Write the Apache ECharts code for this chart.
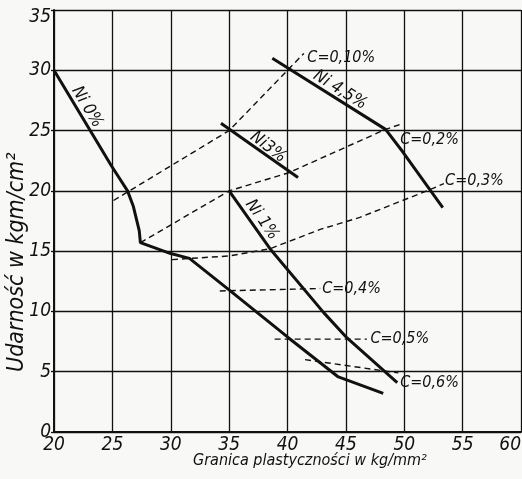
<!DOCTYPE html>
<html>
<head>
<meta charset="utf-8">
<script src="https://cdn.jsdelivr.net/npm/echarts@6/dist/echarts.min.js"></script>
<style>
html,body{margin:0;padding:0;background:#f8f8f6;}
#c{width:522px;height:479px;}
</style>
</head>
<body>
<div id="c"></div>
<script>
// ---- data (x: Granica plastyczności kg/mm², y: Udarność kgm/cm²) ----
var xTicks = [20, 25, 30, 35, 40, 45, 50, 55, 60];
var yTicks = [0, 5, 10, 15, 20, 25, 30, 35];

var ni0  = [[20,30],[24.9,22.1],[26.3,20.0],[26.8,18.7],[27.3,16.7],[27.4,15.7],[30,14.8],[31.6,14.4],[35.1,11.7],[40.1,7.8],[44.3,4.6],[48.2,3.2]];
var ni1  = [[35,20],[38.5,15.2],[43.1,9.9],[45.1,7.8],[49.4,4.1]];
var ni3  = [[34.3,25.6],[40.9,21.1]];
var ni45 = [[38.7,31.0],[48.4,25.1],[49.9,23.2],[53.3,18.6]];

var c010 = [[25.1,19.2],[35,25],[40,30],[41.4,31.4]];
var c02  = [[27.4,15.7],[35,20],[40.1,21.5],[48.4,25.1],[49.9,25.6]];
var c03  = [[30.1,14.3],[35,14.6],[38.5,15.2],[42.8,16.8],[46.2,17.8],[52.2,20.1],[53.4,20.6]];
var c04  = [[34.2,11.7],[42.8,11.9]];
var c05  = [[38.9,7.7],[46.8,7.7]];
var c06  = [[41.5,6.0],[49.5,4.9]];

// label anchors: [x, y, text, rotation(deg), align]
var niLabels = [
  [22.83, 26.95, 'Ni 0%', -59, 'center'],
  [44.5, 28.36, 'Ni 4,5%', -32, 'center'],
  [38.34, 23.63, 'Ni3%', -37, 'center'],
  [37.8, 17.6, 'Ni 1%', -55, 'center']
];
var cLabels = [
  [41.7, 31.0, 'C=0,10%', 0, 'left'],
  [49.65, 24.2, 'C=0,2%', 0, 'left'],
  [53.5, 20.8, 'C=0,3%', 0, 'left'],
  [42.97, 11.86, 'C=0,4%', 0, 'left'],
  [47.1, 7.7, 'C=0,5%', 0, 'left'],
  [49.65, 4.06, 'C=0,6%', 0, 'left']
];

var FONT = '"Liberation Sans Narrow", "DejaVu Sans Condensed", sans-serif';
var INK = '#111';

function solid(name, d) {
  return { name: name, type: 'line', data: d, symbol: 'none', silent: true,
    lineStyle: { color: INK, width: 3 }, z: 5 };
}
function dashed(name, d) {
  return { name: name, type: 'line', data: d, symbol: 'none', silent: true,
    lineStyle: { color: INK, width: 1.4, type: [6, 4] }, z: 4 };
}
function labelSeries(arr, size) {
  return {
    type: 'scatter', symbolSize: 0, silent: true, z: 6,
    itemStyle: { opacity: 1 },
    data: arr.map(function (a) {
      return { value: [a[0], a[1]], name: a[2],
        label: { rotate: a[3], align: a[4] } };
    }),
    label: {
      show: true, position: 'inside', formatter: '{b}', opacity: 1,
      color: INK, fontFamily: FONT, fontStyle: 'italic', fontSize: size,
      verticalAlign: 'middle', textBorderWidth: 0
    }
  };
}

var yMax = yTicks[yTicks.length - 1];
var chart = echarts.init(document.getElementById('c'), null, { renderer: 'canvas' });
chart.setOption({
  backgroundColor: '#f8f8f6',
  animation: false,
  grid: { left: 54, right: 1, top: 10, bottom: 47, containLabel: false, outerBoundsMode: 'none' },
  xAxis: {
    type: 'value', min: xTicks[0], max: xTicks[xTicks.length - 1], interval: 5,
    axisLine: { show: true, lineStyle: { color: INK, width: 2 } },
    axisTick: { show: false },
    axisLabel: { color: INK, fontFamily: FONT, fontStyle: 'italic', fontSize: 19, margin: 4,
      alignMaxLabel: 'right' },
    splitLine: { show: true, lineStyle: { color: INK, width: 1.3 } }
  },
  yAxis: {
    type: 'value', min: yTicks[0], max: yMax, interval: 5,
    axisLine: { show: true, lineStyle: { color: INK, width: 2 } },
    axisTick: { show: true, length: 3, lineStyle: { color: INK, width: 1.3 } },
    axisLabel: { color: INK, fontFamily: FONT, fontStyle: 'italic', fontSize: 19, margin: 3,
      formatter: function (v) { return v === yMax ? '{top|' + v + '}' : String(v); },
      rich: { top: { fontFamily: FONT, fontStyle: 'italic', fontSize: 19, color: INK,
        padding: [14, 0, 0, 0] } } },
    splitLine: { show: true, lineStyle: { color: INK, width: 1.3 } }
  },
  graphic: [
    { type: 'text', left: 193, top: 453,
      style: { text: 'Granica plastyczności w kg/mm²', fill: INK,
        font: 'italic 16px ' + FONT } },
    { type: 'text', x: 6, y: 372, rotation: Math.PI / 2,
      style: { text: 'Udarność w kgm/cm²', fill: INK,
        font: 'italic 23px ' + FONT, align: 'left', verticalAlign: 'top' },
      originX: 0, originY: 0 }
  ],
  series: [
    solid('Ni 0%', ni0), solid('Ni 1%', ni1), solid('Ni 3%', ni3), solid('Ni 4,5%', ni45),
    dashed('C=0,10%', c010), dashed('C=0,2%', c02), dashed('C=0,3%', c03),
    dashed('C=0,4%', c04), dashed('C=0,5%', c05), dashed('C=0,6%', c06),
    labelSeries(niLabels, 17), labelSeries(cLabels, 16)
  ]
});
</script>
</body>
</html>
